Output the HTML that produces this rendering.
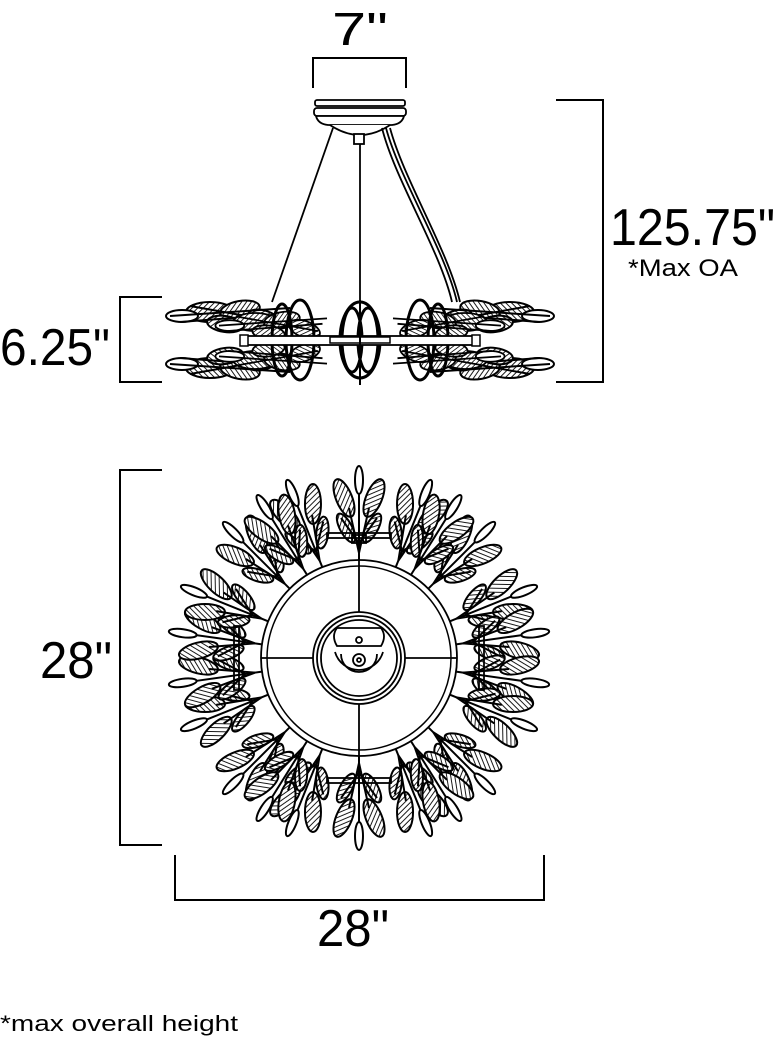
<!DOCTYPE html>
<html><head><meta charset="utf-8"><style>
html,body{margin:0;padding:0;background:#fff}
svg{display:block}
text{font-family:"Liberation Sans",sans-serif;fill:#000}
</style></head><body>
<svg width="775" height="1041" viewBox="0 0 775 1041" xmlns="http://www.w3.org/2000/svg">
<defs>
<pattern id="h" width="4" height="4" patternUnits="userSpaceOnUse" patternTransform="rotate(45)">
<rect width="4" height="4" fill="#fff"/><line x1="0" y1="0" x2="0" y2="4" stroke="#000" stroke-width="1.8"/>
</pattern>
<g id="cl" stroke="#000" stroke-width="2">
<line x1="0" y1="-98" x2="0" y2="-190" fill="none"/>
<ellipse cx="0" cy="-178" rx="4" ry="14" fill="#fff"/>
<ellipse cx="-15" cy="-160" rx="8" ry="20" transform="rotate(-22 -15 -160)" fill="url(#h)"/>
<ellipse cx="15" cy="-160" rx="8" ry="20" transform="rotate(22 15 -160)" fill="url(#h)"/>
<ellipse cx="-13" cy="-130" rx="6" ry="16" transform="rotate(-28 -13 -130)" fill="url(#h)"/>
<ellipse cx="13" cy="-130" rx="6" ry="16" transform="rotate(28 13 -130)" fill="url(#h)"/>
<path d="M0 -105 L-10 -150 M0 -105 L10 -150 M0 -115 L-18 -140 M0 -115 L18 -140" fill="none"/>
</g>
<g id="sl" stroke="#000" stroke-width="2">
<ellipse cx="0" cy="0" rx="24" ry="10" fill="url(#h)"/>
<ellipse cx="-28" cy="4" rx="16" ry="6" fill="#fff"/>
<ellipse cx="30" cy="-2" rx="20" ry="9" fill="url(#h)" transform="rotate(-10 30 -2)"/>
<ellipse cx="55" cy="8" rx="18" ry="9" fill="url(#h)" transform="rotate(20 55 8)"/>
<ellipse cx="15" cy="12" rx="18" ry="8" fill="url(#h)" transform="rotate(8 15 12)"/>
<path d="M-40 4 L80 -4 M-20 -6 L70 10 M-30 10 L75 2" fill="none"/>
</g>
</defs>

<text x="360" y="45" font-size="46" text-anchor="middle" textLength="56" lengthAdjust="spacingAndGlyphs">7"</text>
<path d="M313 88 V58 H406 V88" fill="none" stroke="#000" stroke-width="2"/>
<path d="M556 100 H603 V382 H556" fill="none" stroke="#000" stroke-width="2"/>
<text x="610" y="245" font-size="52" textLength="165" lengthAdjust="spacingAndGlyphs">125.75"</text>
<text x="628" y="276" font-size="24" textLength="110" lengthAdjust="spacingAndGlyphs">*Max OA</text>
<path d="M162 297 H120 V382 H162" fill="none" stroke="#000" stroke-width="2"/>
<text x="0" y="365" font-size="52" textLength="110" lengthAdjust="spacingAndGlyphs">6.25"</text>

<g stroke="#000" stroke-width="1.8" fill="#fff">
<rect x="315" y="100" width="90" height="6" rx="2"/>
<rect x="314" y="108" width="92" height="8" rx="3"/>
<path d="M316 116 H404 Q402 124 392 125 H328 Q318 124 316 116 Z"/>
<path d="M330 125 Q360 145 390 125"/>
<rect x="354" y="134" width="10" height="10"/>
</g>
<g stroke="#000" stroke-width="1.8" fill="none">
<line x1="333" y1="128" x2="272" y2="302"/>
<line x1="360" y1="144" x2="360" y2="300"/>
<path d="M382 128 C395 180 440 250 452 302"/>
<path d="M386 128 C400 180 445 250 457 302"/>
<path d="M390 128 C404 180 448 250 460 302"/>
</g>

<g>
<use href="#sl" transform="translate(210 312)"/>
<use href="#sl" transform="translate(210 368) scale(1 -1)"/>
<use href="#sl" transform="translate(510 312) scale(-1 1)"/>
<use href="#sl" transform="translate(510 368) scale(-1 -1)"/>
<use href="#sl" transform="translate(255 322) scale(0.9)"/>
<use href="#sl" transform="translate(255 360) scale(0.9 -0.9)"/>
<use href="#sl" transform="translate(465 322) scale(-0.9 0.9)"/>
<use href="#sl" transform="translate(465 360) scale(-0.9 -0.9)"/>
<g stroke="#000" stroke-width="3" fill="none">
<ellipse cx="300" cy="340" rx="14" ry="40"/>
<ellipse cx="420" cy="340" rx="14" ry="40"/>
<ellipse cx="360" cy="340" rx="20" ry="38"/>
<ellipse cx="352" cy="340" rx="10" ry="32"/>
<ellipse cx="368" cy="340" rx="10" ry="32"/>
<ellipse cx="282" cy="340" rx="10" ry="36"/>
<ellipse cx="438" cy="340" rx="10" ry="36"/>
</g>
<rect x="245" y="336" width="232" height="9" fill="#fff" stroke="#000" stroke-width="1.8"/>
<rect x="330" y="337" width="60" height="6" fill="#fff" stroke="#000" stroke-width="1.5"/>
<rect x="240" y="335" width="8" height="11" fill="#fff" stroke="#000" stroke-width="1.5"/>
<rect x="472" y="335" width="8" height="11" fill="#fff" stroke="#000" stroke-width="1.5"/>
<line x1="360" y1="300" x2="360" y2="385" stroke="#000" stroke-width="2"/>
</g>

<path d="M162 470 H120 V845 H162" fill="none" stroke="#000" stroke-width="2"/>
<text x="40" y="678" font-size="52" textLength="72" lengthAdjust="spacingAndGlyphs">28"</text>
<path d="M175 855 V900 H544 V855" fill="none" stroke="#000" stroke-width="2"/>
<text x="353" y="946" font-size="52" text-anchor="middle" textLength="72" lengthAdjust="spacingAndGlyphs">28"</text>
<text x="0" y="1031" font-size="22" textLength="238" lengthAdjust="spacingAndGlyphs">*max overall height</text>

<g transform="translate(359 658)">
<g>
<use href="#cl" transform="rotate(0)"/>
<use href="#cl" transform="rotate(22)"/>
<use href="#cl" transform="rotate(45)"/>
<use href="#cl" transform="rotate(68)"/>
<use href="#cl" transform="rotate(82)"/>
<use href="#cl" transform="rotate(98)"/>
<use href="#cl" transform="rotate(112)"/>
<use href="#cl" transform="rotate(135)"/>
<use href="#cl" transform="rotate(158)"/>
<use href="#cl" transform="rotate(180)"/>
<use href="#cl" transform="rotate(202)"/>
<use href="#cl" transform="rotate(225)"/>
<use href="#cl" transform="rotate(248)"/>
<use href="#cl" transform="rotate(262)"/>
<use href="#cl" transform="rotate(278)"/>
<use href="#cl" transform="rotate(292)"/>
<use href="#cl" transform="rotate(315)"/>
<use href="#cl" transform="rotate(338)"/>
<use href="#cl" transform="rotate(-32)"/>
<use href="#cl" transform="rotate(32)"/>
<use href="#cl" transform="rotate(148)"/>
<use href="#cl" transform="rotate(212)"/>
</g>
<circle r="98" fill="#fff" stroke="#000" stroke-width="1.8"/>
<circle r="92" fill="#fff" stroke="#000" stroke-width="1.5"/>
<g stroke="#000" stroke-width="1.8" fill="none">
<line x1="0" y1="-98" x2="0" y2="-46"/><line x1="0" y1="98" x2="0" y2="46"/>
<line x1="-98" y1="0" x2="-46" y2="0"/><line x1="98" y1="0" x2="46" y2="0"/>
<circle r="46"/><circle r="42"/><circle r="38"/>
<path d="M-22 -30 H22 Q28 -22 22 -12 H-22 Q-28 -22 -22 -30 Z"/>
<circle cx="0" cy="-18" r="3"/>
<path d="M-24 -6 A25 25 0 0 0 24 -6 M-18 -4 A18 18 0 0 0 18 -4"/>
<circle cx="0" cy="2" r="6"/><circle cx="0" cy="2" r="2"/>
<rect x="-7" y="-123" width="14" height="8"/>
<rect x="-32" y="-125" width="64" height="5"/>
<rect x="-32" y="120" width="64" height="5"/>
<rect x="-125" y="-32" width="5" height="64"/>
<rect x="120" y="-32" width="5" height="64"/>
</g>
</g>
</svg>
</body></html>
